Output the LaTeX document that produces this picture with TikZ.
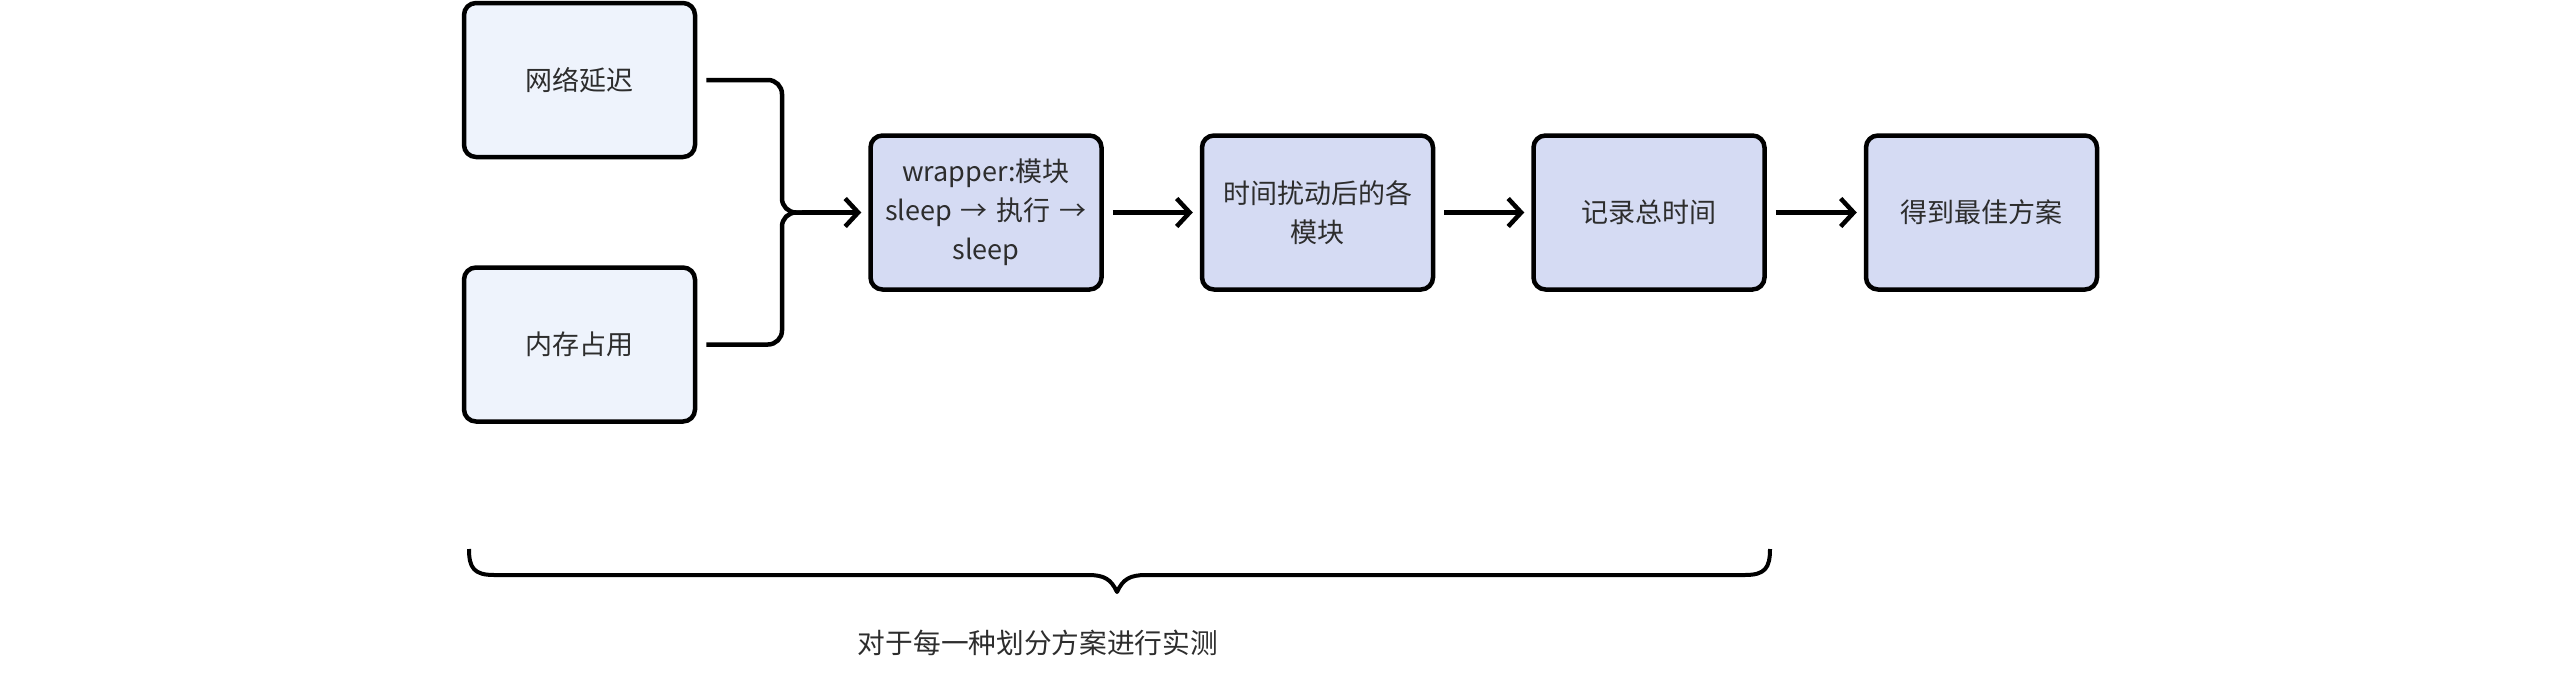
\documentclass[tikz,border=0pt]{standalone}
\usepackage{fontspec}
\setmainfont{Noto Sans CJK SC}
\usetikzlibrary{arrows.meta}
\definecolor{lightfill}{RGB}{238,243,252}
\definecolor{mainfill}{RGB}{213,219,243}
\definecolor{txt}{RGB}{45,45,45}
\tikzset{
  box/.style={draw=black, line width=4.5pt, rounded corners=12pt, minimum width=231pt, minimum height=154pt, align=center, text width=215pt, text=txt, font=\fontsize{27}{39}\selectfont, inner sep=0pt},
  lbox/.style={box, fill=lightfill},
  mbox/.style={box, fill=mainfill},
  conn/.style={line width=4.5pt, -{Straight Barb[length=13pt,width=28pt,line width=4.5pt]}},
  merge/.style={line width=4.5pt, rounded corners=14pt},
}
\begin{document}
\begin{tikzpicture}[x=1pt,y=-1pt]
\useasboundingbox (0,0) rectangle (2560,680);
\node[lbox] (net) at (579.5,80) {网络延迟};
\node[lbox] (mem) at (579.5,344.5) {内存占用};
\node[mbox] (wrap) at (986,212.5) {wrapper:模块\\sleep → 执行 →\\sleep};
\node[mbox] (pert) at (1317.5,212.5) {时间扰动后的各\\模块};
\node[mbox] (rec) at (1649,212.5) {记录总时间};
\node[mbox] (best) at (1981.5,212.5) {得到最佳方案};
\coordinate (j1) at (782,80);
\coordinate (j2) at (782,344.5);
\coordinate (jm) at (782,212.5);
\draw[merge] ([xshift=9pt]net.east) -- (j1) -- (jm) -- ([xshift=30pt]jm);
\draw[merge] ([xshift=9pt]mem.east) -- (j2) -- (jm) -- ([xshift=30pt]jm);
\draw[conn] ([xshift=20pt]jm) -- ([xshift=-7pt]wrap.west);
\draw[conn] ([xshift=9pt]wrap.east) -- ([xshift=-7pt]pert.west);
\draw[conn] ([xshift=9pt]pert.east) -- ([xshift=-7pt]rec.west);
\draw[conn] ([xshift=9pt]rec.east) -- ([xshift=-7pt]best.west);
\coordinate (bl) at (469,549);
\coordinate (br) at (1770,549);
\coordinate (bt) at (1117,592);
\draw[line width=4pt, line join=round] (bl) .. controls (469,568) and (474,575) .. (494,575) -- (1088,575) .. controls (1104,575) and (1111,579) .. (bt) .. controls (1123,579) and (1130,575) .. (1146,575) -- (1745,575) .. controls (1765,575) and (1770,568) .. (br);
\node[text=txt, font=\fontsize{27.7}{34}\selectfont, inner sep=0pt] (lab) at (1038,643) {对于每一种划分方案进行实测};
\end{tikzpicture}
\end{document}
